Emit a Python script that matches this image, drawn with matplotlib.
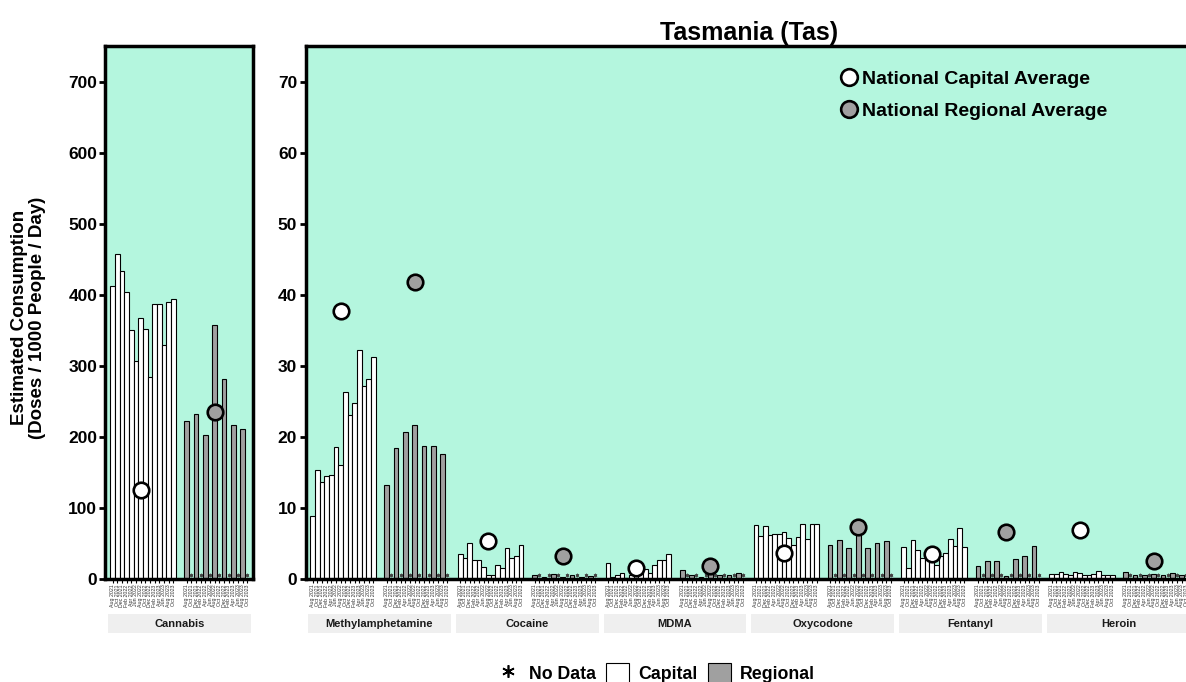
import numpy as np
import matplotlib.pyplot as plt
import matplotlib.transforms as mtransforms
from matplotlib.lines import Line2D
from matplotlib.patches import Patch, Rectangle

plt.rcParams['font.family'] = ['Liberation Sans', 'DejaVu Sans']
plt.rcParams['font.weight'] = 'bold'

# sampling periods (same list used for capital and regional sites)
dates = ["Aug 2021", "Oct 2021", "Dec 2021", "Feb 2022", "Apr 2022", "Jun 2022",
         "Aug 2022", "Oct 2022", "Dec 2022", "Feb 2023", "Apr 2023", "Jun 2023",
         "Aug 2023", "Oct 2023"]

drugs = ["Cannabis", "Methylamphetamine", "Cocaine", "MDMA",
         "Oxycodone", "Fentanyl", "Heroin"]

# capital city sites, every period
cannabis_cap = [412, 458, 433, 404, 350, 307, 367, 352, 284, 387, 387, 329, 390, 394]
meth_cap = [8.8, 15.3, 13.6, 14.5, 14.7, 18.6, 16.0, 26.3, 23.1, 24.7, 32.2, 27.1, 28.1, 31.2]
cocaine_cap = [3.5, 2.9, 5.0, 2.7, 2.7, 1.7, 0.5, 0.5, 1.9, 1.6, 4.4, 2.9, 3.2, 4.8]
mdma_cap = [2.2, 0.3, 0.6, 0.8, 0.2, 0.5, 1.2, 1.9, 1.4, 0.8, 2.0, 2.7, 2.7, 3.5]
oxy_cap = [7.6, 6.0, 7.5, 6.2, 6.3, 6.3, 6.6, 5.8, 4.8, 5.9, 7.7, 5.6, 7.8, 7.7]
fent_cap = [4.5, 1.6, 5.5, 4.1, 3.0, 3.0, 2.6, 2.0, 3.3, 3.7, 5.6, 4.6, 7.2, 4.5]
heroin_cap = [0.75, 0.75, 1.0, 0.7, 0.5, 1.05, 0.8, 0.6, 0.6, 0.7, 1.1, 0.6, 0.5, 0.5]

# regional sites, sampled every second period (None = no data)
cannabis_reg = [222, None, 232, None, 202, None, 357, None, 281, None, 216, None, 211, None]
meth_reg = [13.2, None, 18.4, None, 20.7, None, 21.6, None, 18.7, None, 18.7, None, 17.6, None]
cocaine_reg = [0.6, None, 0.3, None, 0.75, None, 0.35, None, 0.5, None, 0.35, None, 0.4, None]
mdma_reg = [1.2, None, 0.5, None, 0.3, None, 0.8, None, 0.6, None, 0.5, None, 0.9, None]
oxy_reg = [4.8, None, 5.5, None, 4.35, None, 6.9, None, 4.35, None, 5.1, None, 5.3, None]
fent_reg = [1.8, None, 2.6, None, 2.5, None, 0.4, None, 2.8, None, 3.3, None, 4.6, None]
heroin_reg = [1.0, None, 0.5, None, 0.5, None, 0.7, None, 0.5, None, 0.8, None, 0.6, None]

# national averages
cap_avg = [125, 37.7, 5.4, 1.5, 3.7, 3.5, 6.9]
reg_avg = [235, 41.8, 3.2, 1.8, 7.3, 6.6, 2.5]

BG = '#b4f6de'
GREY = '#a0a0a0'
GAP = 15.9          # start of regional block within a facet
FACET = 31.65       # facet width in bar slots
LEFT = -1.5


def draw_facet(ax, offset, cap, reg, c_mean, r_mean, name, ymax):
    xc = offset + np.arange(len(cap))
    xr = offset + GAP + np.arange(len(reg))
    reg = np.array([np.nan if v is None else v for v in reg], dtype=float)
    has = ~np.isnan(reg)

    ax.bar(xc, cap, width=1, color='white', edgecolor='black', lw=0.8, zorder=2)
    ax.bar(xr[has], reg[has], width=1, color=GREY, edgecolor='black', lw=0.8, zorder=2)
    ax.scatter(xr[~has], np.full((~has).sum(), ymax * 0.007), marker=(6, 2, 0),
               s=5, c='#444444', lw=0.5, zorder=3)

    ax.scatter([offset + 6], [c_mean], s=125, c='white', edgecolors='black',
               linewidths=1.9, zorder=4)
    ax.scatter([offset + GAP + 6], [r_mean], s=125, c=GREY, edgecolors='black',
               linewidths=1.9, zorder=4)

    # facet strip
    trans = mtransforms.blended_transform_factory(ax.transData, ax.transAxes)
    ax.add_patch(Rectangle((offset + LEFT + 0.55, -0.1013), FACET - 1.1, 0.0356,
                           transform=trans, facecolor='#efefef', edgecolor='none',
                           clip_on=False))
    ax.text(offset + LEFT + FACET / 2, -0.0835, name, transform=trans,
            ha='center', va='center', fontsize=8, color='#1a1a1a')
    return list(xc) + list(xr)


def style_axes(ax, ymax, step):
    ax.set_facecolor(BG)
    ax.set_ylim(0, ymax)
    ax.set_yticks(np.arange(0, ymax, step))
    for s in ax.spines.values():
        s.set_linewidth(2.5)
    ax.tick_params(axis='y', length=4, width=2, labelsize=12.5, pad=2)
    ax.tick_params(axis='x', length=3, width=0.8, pad=1, labelsize=3.8,
                   labelcolor='#333333', labelrotation=90)


fig = plt.figure(figsize=(11.86, 6.82), dpi=100)
W, H = 1186, 682
ax_c = fig.add_axes([105.5 / W, 103 / H, 147.8 / W, 533 / H])
ax_m = fig.add_axes([305.5 / W, 103 / H, 6 * 147.8 / W, 533 / H])

style_axes(ax_c, 750, 100)
style_axes(ax_m, 75, 10)

ticks = draw_facet(ax_c, 0, cannabis_cap, cannabis_reg, cap_avg[0], reg_avg[0],
                   drugs[0], 750)
ax_c.set_xlim(LEFT, LEFT + FACET)
ax_c.set_xticks(ticks)
ax_c.set_xticklabels(dates * 2, fontweight='normal')

caps = [meth_cap, cocaine_cap, mdma_cap, oxy_cap, fent_cap, heroin_cap]
regs = [meth_reg, cocaine_reg, mdma_reg, oxy_reg, fent_reg, heroin_reg]
ticks = []
for k in range(6):
    ticks += draw_facet(ax_m, k * FACET, caps[k], regs[k], cap_avg[k + 1],
                        reg_avg[k + 1], drugs[k + 1], 75)
ax_m.set_xlim(LEFT, LEFT + 6 * FACET)
ax_m.set_xticks(ticks)
ax_m.set_xticklabels(dates * 12, fontweight='normal')

ax_m.set_title("Tasmania (Tas)", fontsize=18, fontweight='bold', pad=4,
               x=(749 - 305.5) / (6 * 147.8))

fig.text(0.024, 0.534, "Estimated Consumption\n(Doses / 1000 People / Day)",
         rotation=90, ha='center', va='center', fontsize=13.5, linespacing=1.1)

avg_handles = [
    Line2D([], [], ls='', marker='o', ms=12, mfc='white', mec='black', mew=1.9),
    Line2D([], [], ls='', marker='o', ms=12, mfc=GREY, mec='black', mew=1.9),
]
ax_m.legend(avg_handles, ["National Capital Average", "National Regional Average"],
            loc='upper left', bbox_to_anchor=(0.58, 0.987), frameon=False,
            fontsize=14, handletextpad=0.05, labelspacing=0.75, handlelength=1.2)

key_handles = [
    Line2D([], [], ls='', marker=(6, 2, 0), ms=9, color='black', mew=1.2),
    Patch(facecolor='white', edgecolor='black', lw=0.8),
    Patch(facecolor=GREY, edgecolor='black', lw=0.8),
]
fig.legend(key_handles, ["No Data", "Capital", "Regional"], loc='center',
           bbox_to_anchor=(0.553, 0.013), ncol=3, frameon=False, fontsize=12.8,
           handlelength=1.3, handleheight=1.3, handletextpad=0.5, columnspacing=0.6)

fig.savefig("out.png", dpi=100)
